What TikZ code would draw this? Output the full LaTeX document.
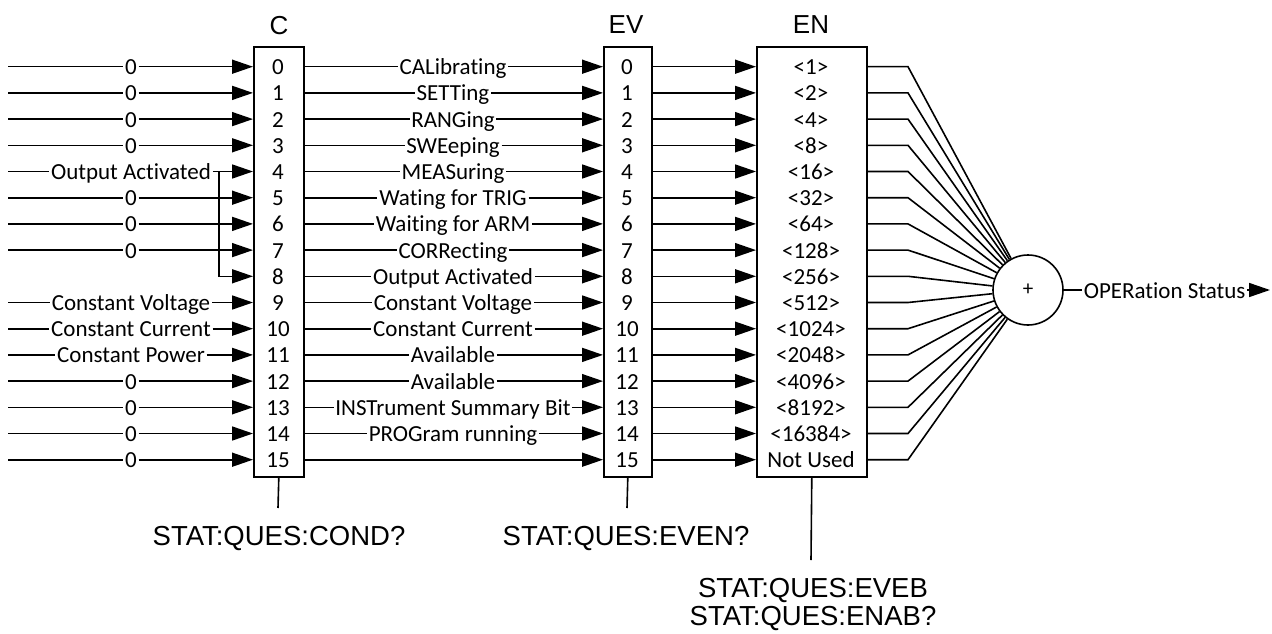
\documentclass[tikz,border=0pt]{standalone}
\usepackage{fontspec}
\setmainfont{Carlito}[Ligatures={NoCommon,NoRare,NoContextual}]
\newfontfamily\arialf{Liberation Sans}
\usetikzlibrary{arrows.meta}
\begin{document}
\begin{tikzpicture}[x=1pt,y=-1pt, line width=1.6pt,
  body/.style={font=\fontsize{23}{27}\selectfont, inner xsep=1pt, inner ysep=0pt, anchor=base},
  head/.style={font=\arialf\fontsize{26}{30}\selectfont, inner sep=0pt, anchor=base},
  query/.style={font=\arialf\fontsize{27.5}{32}\selectfont, inner sep=0pt, anchor=base},
  reg/.style={draw, minimum width=#1, minimum height=430pt, anchor=north west, inner sep=0pt},
  arr/.style={-{Triangle[length=21pt,width=14pt]}}]
\useasboundingbox (0,0) rectangle (1272,634);

% registers
\node[reg=50pt] (C) at (253,46) {};
\node[reg=48pt] (EV) at (603,46) {};
\node[reg=110pt] (EN) at (756,46) {};
\node[head] (hC) at (279,35) {C};
\node[head] (hEV) at (626,34) {EV};
\node[head] (hEN) at (811,34) {EN};

% summing node
\node[draw, circle, minimum size=70pt, inner sep=0pt, font=\fontsize{21}{25}\selectfont] (sum) at (1028,290) {+};

% rows common to all
\foreach \k/\e in {0/{<1>},1/{<2>},2/{<4>},3/{<8>},4/{<16>},5/{<32>},6/{<64>},7/{<128>},8/{<256>},9/{<512>},10/{<1024>},11/{<2048>},12/{<4096>},13/{<8192>},14/{<16384>},15/{Not Used}} {
  \pgfmathsetmacro\yy{66.7+26.2*\k}
  \coordinate (r\k) at (0,\yy);
  \node[body] (c\k) at (278,\yy+8) {\k};
  \node[body] (v\k) at (627,\yy+8) {\k};
  \node[body] (n\k) at (811,\yy+8) {\e};
  \draw[arr] (EV.east |- r\k) -- (EN.west |- r\k);
  \coordinate (k\k) at (908,\yy);
  \draw (EN.east |- r\k) -- (k\k) -- (sum);
}

% inputs to C
\foreach \k/\t in {0/0,1/0,2/0,3/0,4/Output Activated,5/0,6/0,7/0,9/Constant Voltage,10/Constant Current,11/Constant Power,12/0,13/0,14/0,15/0} {
  \pgfmathsetmacro\yy{66.7+26.2*\k}
  \node[body] (l\k) at (131,\yy+8) {\t};
  \coordinate (s\k) at (8,\yy);
  \draw (s\k) -- (l\k.west |- s\k);
  \draw[arr] (l\k.east |- s\k) -- (C.west |- s\k);
}
\coordinate (b4) at (219,171.5);
\coordinate (b8) at (219,276.3);
\draw[arr] (b4) -- (b8) -- (C.west |- b8);

% C to EV
\foreach \k/\t in {0/CALibrating,1/SETTing,2/RANGing,3/SWEeping,4/MEASuring,5/Wating for TRIG,6/Waiting for ARM,7/CORRecting,8/Output Activated,9/Constant Voltage,10/Constant Current,11/Available,12/Available,13/INSTrument Summary Bit,14/PROGram running} {
  \pgfmathsetmacro\yy{66.7+26.2*\k}
  \node[body] (m\k) at (453,\yy+8) {\t};
  \draw (C.east |- r\k) -- (m\k.west |- r\k);
  \draw[arr] (m\k.east |- r\k) -- (EV.west |- r\k);
}
\draw[arr] (C.east |- r15) -- (EV.west |- r15);

% output
\node[body, anchor=base west] (op) at (1082,298) {OPERation Status};
\coordinate (opend) at (1270,290);
\draw (sum.east) -- (op.west |- sum.east);
\draw[arr] (op.east |- sum.east) -- (opend);

% query commands
\coordinate (cq) at (278,508);
\coordinate (vq) at (627,508);
\coordinate (nq) at (811,560);
\draw (C.south) -- (cq);
\draw (EV.south) -- (vq);
\draw (EN.south) -- (nq);
\node[query] (qc) at (279,545) {STAT:QUES:COND?};
\node[query] (qv) at (626,545) {STAT:QUES:EVEN?};
\node[query] (qb) at (813,597) {STAT:QUES:EVEB};
\node[query] (qn) at (813,625) {STAT:QUES:ENAB?};
\end{tikzpicture}
\end{document}
